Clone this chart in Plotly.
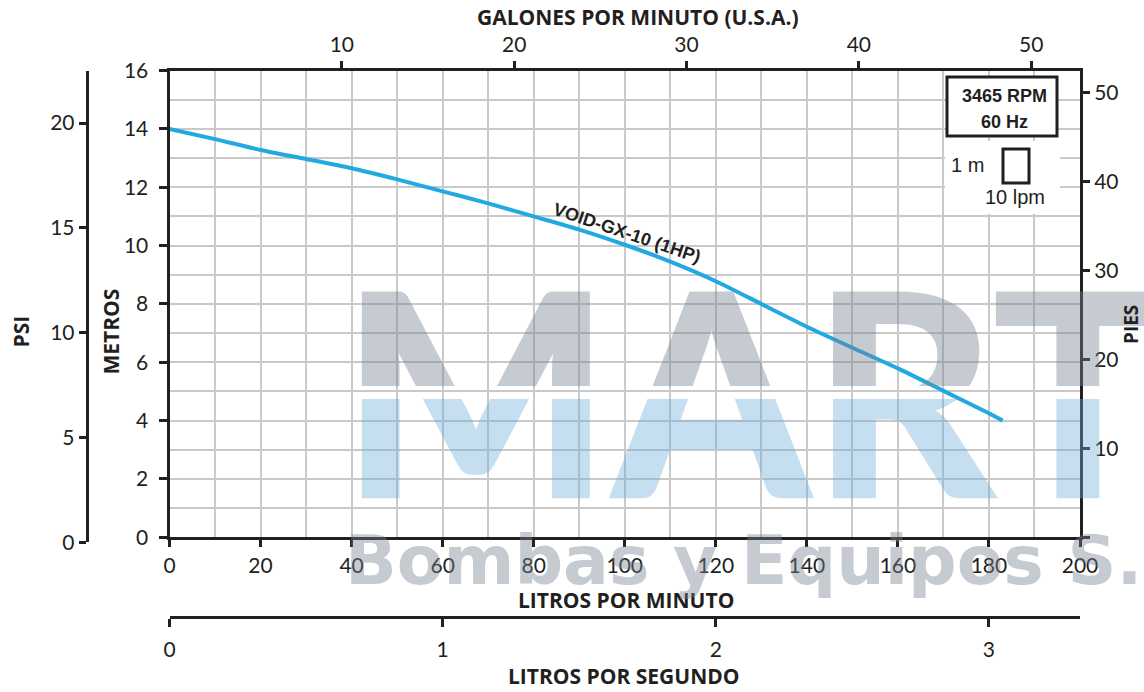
import plotly.graph_objects as go

# ---------------- data ----------------
flow_lpm = [0, 10, 20, 30, 40, 50, 60, 70, 80, 90, 100, 110, 120, 130, 140, 150, 160, 170, 180, 183]
head_m = [14.0, 13.65, 13.28, 12.97, 12.65, 12.27, 11.86, 11.45, 11.0, 10.55, 10.03, 9.45, 8.78, 8.0, 7.22, 6.5, 5.79, 5.02, 4.25, 4.0]
curve_name = "VOID-GX-10 (1HP)"

lpm_ticks = [0, 20, 40, 60, 80, 100, 120, 140, 160, 180, 200]
m_ticks = [0, 2, 4, 6, 8, 10, 12, 14, 16]
gpm_ticks = [10, 20, 30, 40, 50]
ft_ticks = [0, 10, 20, 30, 40, 50]
ft_labels = ["", "10", "20", "30", "40", "50"]
psi_ticks = [0, 5, 10, 15, 20]
lps_ticks = [0, 1, 2, 3]

LPM_PER_GPM = 3.78541
M_PER_FT = 0.3048
LPM_MAX = 200
M_MAX = 16
PSI_MAX = 22.5

# ---------------- layout helpers (screen pixel -> paper) ----------------
W, H = 1144, 692
def px(x):
    return x / W
def py(y):
    return 1 - y / H

INK = "#231f20"
GRID = "#c9c9c9"
TICKFONT = dict(family="Lato", size=21, color=INK)
TITLEFONT = dict(family="Open Sans", size=21, color=INK, weight="bold")
WM_GRAY = "rgba(118,128,145,0.42)"
WM_BLUE = "rgba(110,172,218,0.40)"

fig = go.Figure()

# main curve
fig.add_trace(go.Scatter(
    x=flow_lpm, y=head_m, mode="lines", line=dict(color="#22a9e1", width=4, shape="spline", smoothing=0.6),
    hoverinfo="x+y", showlegend=False, xaxis="x", yaxis="y"))

# dummy traces to register secondary axes
def dummy(xa, ya):
    fig.add_trace(go.Scatter(x=[0], y=[0], mode="markers", marker=dict(opacity=0),
                             hoverinfo="skip", showlegend=False, xaxis=xa, yaxis=ya))
dummy("x2", "y")
dummy("x", "y2")
dummy("x3", "y")
dummy("x7", "y3")

# watermark "MART" split into two coloured bands via clipped subplots
WM_X = 752
WM_Y = H - 427
for ya, col in (("y8", WM_GRAY), ("y9", WM_BLUE)):
    fig.add_trace(go.Scatter(
        x=[WM_X], y=[WM_Y], mode="text", text=["MART"], textposition="middle center",
        textfont=dict(family="Lato", size=285, color=col, weight=900),
        cliponaxis=True, hoverinfo="skip", showlegend=False, xaxis="x8", yaxis=ya))

axis_common = dict(showline=True, linecolor=INK, linewidth=3, ticks="outside", tickcolor=INK,
                   tickwidth=2.5, tickfont=TICKFONT, zeroline=False, automargin=False, fixedrange=True)

fig.update_layout(
    width=W, height=H,
    margin=dict(l=0, r=0, t=0, b=0),
    paper_bgcolor="white", plot_bgcolor="rgba(0,0,0,0)",
    showlegend=False,
    font=dict(family="Lato", color=INK),
    xaxis=dict(domain=[px(169.5), px(1080)], range=[0, LPM_MAX], tickvals=lpm_ticks, ticklen=7,
               showgrid=True, gridcolor=GRID, gridwidth=1.5,
               minor=dict(dtick=10, showgrid=True, gridcolor=GRID, gridwidth=1.5, ticks=""),
               anchor="y", side="bottom", **axis_common),
    yaxis=dict(domain=[py(537.3), py(70.6)], range=[0, M_MAX], tickvals=m_ticks, ticklen=8,
               showgrid=True, gridcolor=GRID, gridwidth=1.5,
               minor=dict(dtick=1, showgrid=True, gridcolor=GRID, gridwidth=1.5, ticks=""),
               anchor="x", side="left", ticklabelstandoff=6, **axis_common),
    xaxis2=dict(overlaying="x", side="top", anchor="y", range=[0, LPM_MAX / LPM_PER_GPM],
                tickvals=gpm_ticks, ticklen=7, showgrid=False, **axis_common),
    yaxis2=dict(overlaying="y", side="right", anchor="x", range=[0, M_MAX / M_PER_FT],
                tickvals=ft_ticks, ticktext=ft_labels, ticklen=7, showgrid=False, **axis_common),
    xaxis3=dict(overlaying="x", side="bottom", anchor="free", position=py(616.7),
                range=[0, LPM_MAX / 60], tickvals=lps_ticks, ticklen=8, showgrid=False,
                ticklabelstandoff=5, **axis_common),
    xaxis7=dict(domain=[px(86.7), px(100)], visible=False, range=[0, 1], fixedrange=True, anchor="y3"),
    yaxis3=dict(domain=[py(542.3), py(70.7)], anchor="free", position=px(86.7), side="left",
                range=[0, PSI_MAX], tickvals=psi_ticks, ticklen=7, showgrid=False, **axis_common),
    xaxis8=dict(domain=[0, 1], range=[0, W], visible=False, fixedrange=True, anchor="y8"),
    yaxis8=dict(domain=[py(386), py(270)], range=[H - 386, H - 270], visible=False, fixedrange=True, anchor="x8"),
    yaxis9=dict(domain=[py(530), py(399)], range=[H - 530, H - 399], visible=False, fixedrange=True, anchor="x8"),
)

# white patches and boxes
fig.add_shape(type="rect", xref="paper", yref="paper", x0=px(945), x1=px(1060), y0=py(214), y1=py(141),
              fillcolor="white", line=dict(width=0), layer="above")
fig.add_shape(type="rect", xref="paper", yref="paper", x0=px(947), x1=px(1057), y0=py(136), y1=py(77),
              fillcolor="white", line=dict(color=INK, width=3), layer="above")
fig.add_shape(type="rect", xref="paper", yref="paper", x0=px(1003), x1=px(1029), y0=py(183), y1=py(149),
              fillcolor="white", line=dict(color=INK, width=3), layer="above")

def ann(text, x, y, font, angle=0, xanchor="center", yanchor="middle", xref="paper", yref="paper"):
    fig.add_annotation(text=text, x=x, y=y, xref=xref, yref=yref, showarrow=False, textangle=angle,
                       xanchor=xanchor, yanchor=yanchor, font=font)

arial_b = dict(family="Liberation Sans", size=18, color=INK, weight="bold")
arial = dict(family="Liberation Sans", size=20, color=INK)
ann("3465 RPM", px(1004), py(96), arial_b)
ann("60 Hz", px(1004), py(122), arial_b)
ann("1 m", px(967), py(165), arial)
ann("10 lpm", px(1015), py(197), arial)

# curve label
ann(curve_name, 100.5, 10.43, dict(family="Liberation Sans", size=18, color=INK, weight="bold"),
    angle=18.5, xref="x", yref="y")

# axis titles
ann("GALONES POR MINUTO (U.S.A.)", px(637.5), py(17), TITLEFONT)
ann("LITROS POR MINUTO", px(626), py(600), TITLEFONT)
ann("LITROS POR SEGUNDO", px(624), py(676), TITLEFONT)
ann("METROS", px(110), py(331.5), TITLEFONT, angle=-90)
ann("PSI", px(20.5), py(332), TITLEFONT, angle=-90)
ann("PIES", px(1131), py(325), dict(family="Open Sans", size=19, color=INK, weight="bold"), angle=-90)

# watermark lower line
ann("Bombas y Equipos S.", px(343), py(560), dict(family="DejaVu Sans", size=68, color=WM_GRAY, weight="bold"),
    xanchor="left")

# page body has a default 8px margin; remove it so the figure fills the window exactly
fig.write_html("out.html", config={"displayModeBar": False},
               post_script="document.body.style.margin='0px';")
